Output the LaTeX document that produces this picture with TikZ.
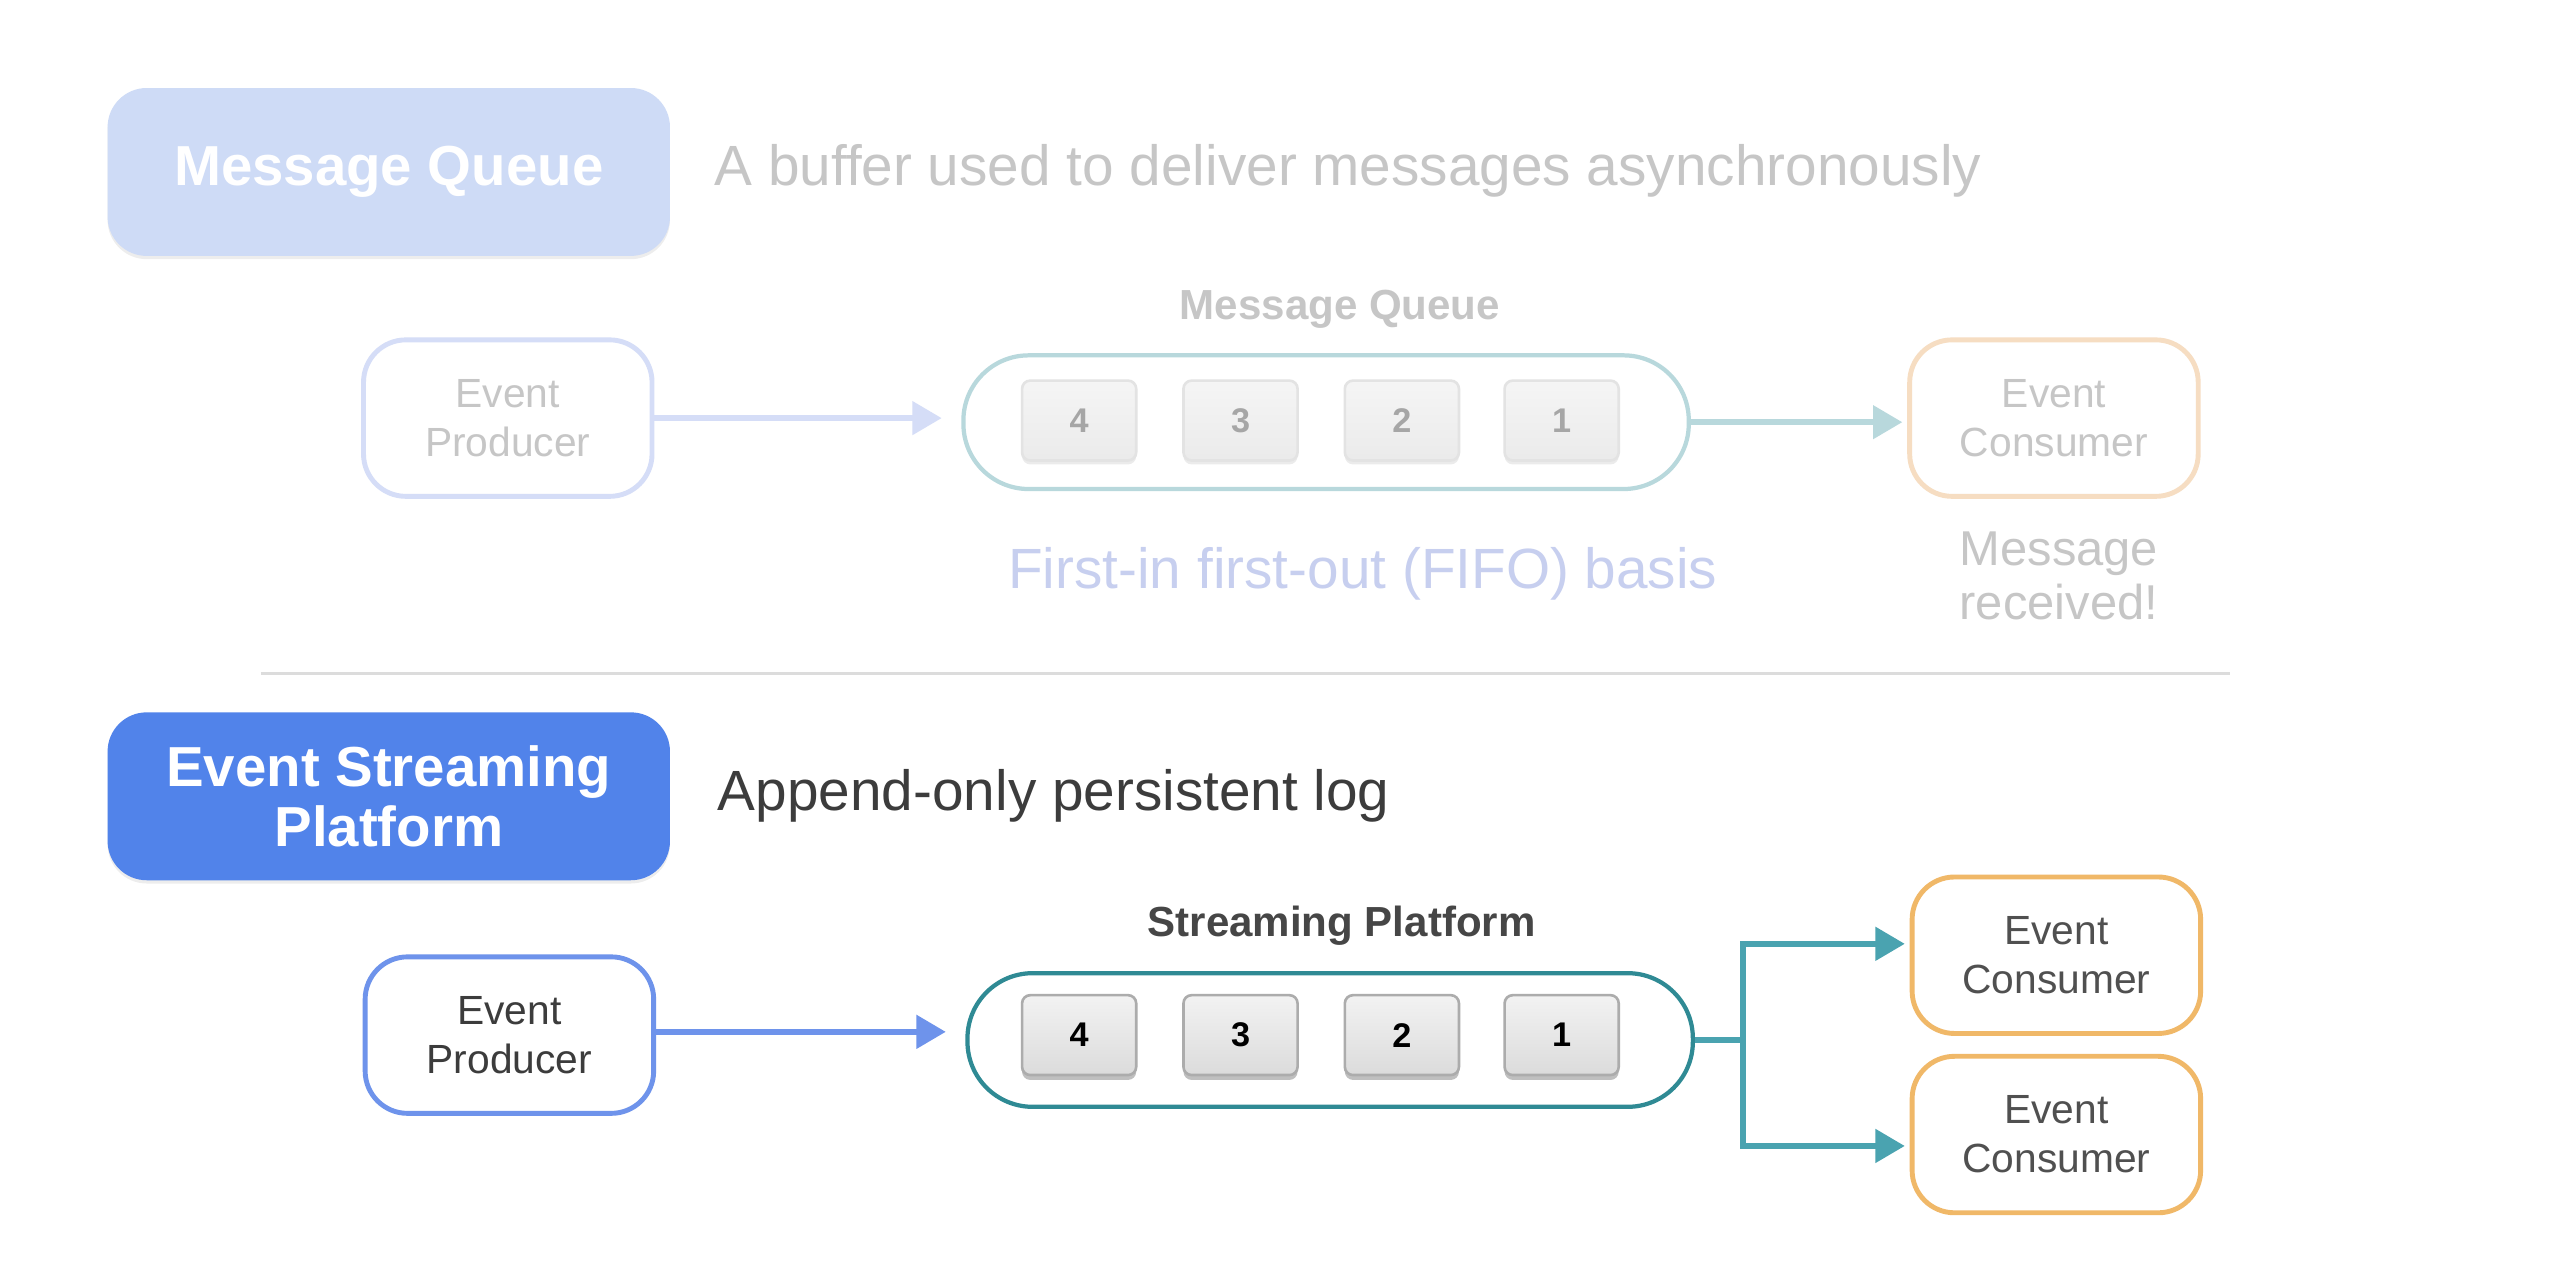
\documentclass[tikz,border=0pt]{standalone}
\usepackage{fontspec}
\setmainfont{Liberation Sans}
\usetikzlibrary{arrows.meta,shadows,calc}
\definecolor{mqfill}{HTML}{CEDBF6}
\definecolor{fadetext}{HTML}{C6C6C6}
\definecolor{fadeblue}{HTML}{D5DDF7}
\definecolor{fadeteal}{HTML}{B8D8DC}
\definecolor{fadeorange}{HTML}{F6DDC2}
\definecolor{fifo}{HTML}{C7CFEF}
\definecolor{sepline}{HTML}{DCDCDC}
\definecolor{espfill}{HTML}{5183EA}
\definecolor{darktext}{HTML}{3C3C3C}
\definecolor{prodblue}{HTML}{6E93EB}
\definecolor{pillteal}{HTML}{2F8A94}
\definecolor{branchteal}{HTML}{4AA3B0}
\definecolor{consorange}{HTML}{F0B868}
\begin{document}
\begin{tikzpicture}[x=0.5pt,y=-0.5pt,
  titlebox/.style={rounded corners=12pt, minimum width=172.5pt, minimum height=51.5pt,
    text=white, font=\fontsize{17.3}{18.5}\selectfont\bfseries, align=center, inner sep=0pt,
    drop shadow={shadow xshift=0pt, shadow yshift=-1pt, opacity=0.07, fill=black}},
  boxnode/.style={draw, line width=1.5pt, rounded corners=13pt, fill=white,
    minimum width=88.5pt, minimum height=48pt, align=center,
    font=\fontsize{12.5}{15}\selectfont, inner sep=0pt},
  pill/.style={draw, line width=1.3pt, rounded corners=20pt, minimum width=222.5pt,
    minimum height=41pt, fill=white, inner sep=0pt},
  itembox/.style={draw, line width=0.8pt, rounded corners=2.5pt, minimum width=35pt, minimum height=24.5pt,
    font=\fontsize{10.5}{10.5}\selectfont\bfseries, inner sep=0pt},
  fadeitem/.style={itembox, draw=gray!22, top color=gray!8, bottom color=gray!16, text=gray!70,
    drop shadow={shadow xshift=0pt, shadow yshift=-1.2pt, opacity=0.08, fill=black}},
  solititem/.style={itembox, draw=gray!65, top color=gray!10, bottom color=gray!28, text=black,
    drop shadow={shadow xshift=0pt, shadow yshift=-1.5pt, opacity=0.25, fill=black}},
  conn/.style={line width=1.8pt, -{Triangle[length=9pt,width=10pt]}},
  header/.style={font=\fontsize{17.4}{20}\selectfont, inner sep=0pt, anchor=west}
]
\fill[white] (0,0) rectangle (1568,779);
\useasboundingbox (0,0) rectangle (1568,779);

% ---------- Message Queue section ----------
\node[titlebox, fill=mqfill] (mqtitle) at (238.5,105.5) {Message Queue};
\node[header, text=fadetext] (mqdesc) at (438,105) {A buffer used to deliver messages asynchronously};

\node[font=\fontsize{12.9}{15}\selectfont\bfseries, text=fadetext] (mqlabel) at (822,190) {Message Queue};

\node[boxnode, draw=fadeblue, text=fadetext] (mqprod) at (311.5,256.5) {Event\\Producer};
\node[pill, draw=fadeteal] (mqpill) at (813.5,259) {};
\node[fadeitem] (mq4) at (662,258) {4};
\node[fadeitem] (mq3) at (761,258) {3};
\node[fadeitem] (mq2) at (860,258) {2};
\node[fadeitem] (mq1) at (958,258) {1};
\node[boxnode, draw=fadeorange, text=fadetext] (mqcons) at (1260,256.5) {Event\\Consumer};

\draw[conn, fadeblue, shorten >=6pt] (mqprod.east) -- (mqprod.east -| mqpill.west);
\draw[conn, fadeteal, shorten >=1.5pt] (mqpill.east) -- (mqpill.east -| mqcons.west);

\node[font=\fontsize{17.4}{20}\selectfont, text=fifo] (fifo) at (836,352) {First-in first-out (FIFO) basis};
\node[font=\fontsize{15}{16.5}\selectfont, text=fadetext, align=center] (received) at (1263,353.5) {Message\\received!};

% separator
\coordinate (sepL) at (160,413);
\coordinate (sepR) at (1368,413);
\draw[sepline, line width=0.8pt] (sepL) -- (sepR);

% ---------- Event Streaming Platform section ----------
\node[titlebox, fill=espfill] (esptitle) at (238.5,488.5) {Event Streaming\\Platform};
\node[header, text=darktext] (espdesc) at (440,488) {Append-only persistent log};

\node[font=\fontsize{12.9}{15}\selectfont\bfseries, text=darktext!95] (splabel) at (823,568) {Streaming Platform};

\node[boxnode, draw=prodblue, text=darktext] (prod) at (312.5,635) {Event\\Producer};
\node[pill, draw=pillteal] (sp) at (816,638) {};
\node[solititem] (s4) at (662,635) {4};
\node[solititem] (s3) at (761,635) {3};
\node[solititem] (s2) at (860,635) {2};
\node[solititem] (s1) at (958,635) {1};
\node[boxnode, draw=consorange, text=darktext!90] (c1) at (1261.5,586) {Event\\Consumer};
\node[boxnode, draw=consorange, text=darktext!90] (c2) at (1261.5,696) {Event\\Consumer};

\draw[conn, prodblue, shorten >=6pt] ([yshift=1pt]prod.east) -- ([yshift=1pt]prod.east -| sp.west);

\coordinate (branch) at (1069,638);
\draw[line width=1.8pt, branchteal] (sp.east) -- (branch);
\draw[conn, branchteal, shorten >=1.5pt] (branch) |- ([yshift=3.5pt]c1.west);
\draw[conn, branchteal, shorten >=1.5pt] (branch) |- ([yshift=-3.5pt]c2.west);
\end{tikzpicture}
\end{document}
